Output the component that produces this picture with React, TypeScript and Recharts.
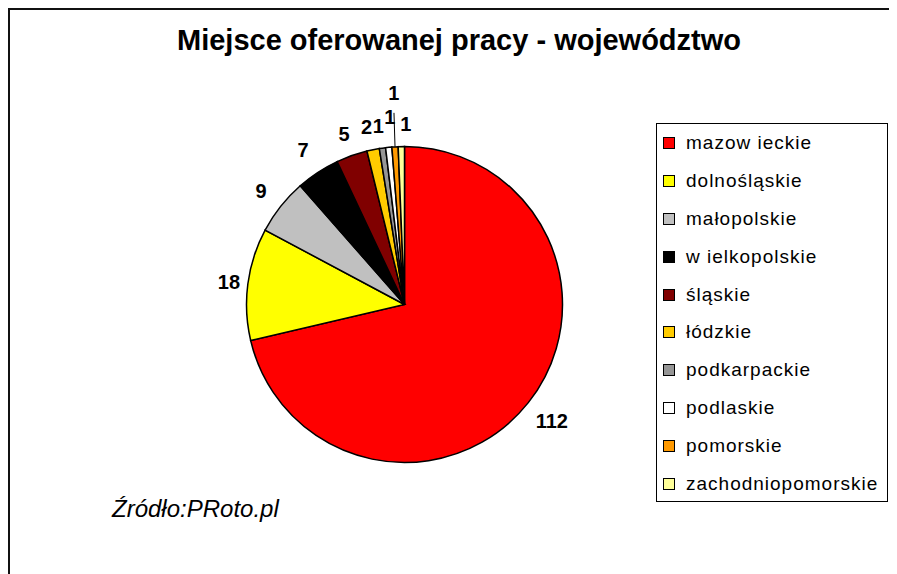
import { Cell, Legend, Pie, PieChart } from "recharts";

const categories = [
  "mazow ieckie",
  "dolnośląskie",
  "małopolskie",
  "w ielkopolskie",
  "śląskie",
  "łódzkie",
  "podkarpackie",
  "podlaskie",
  "pomorskie",
  "zachodniopomorskie",
];

const counts = [112, 18, 9, 7, 5, 2, 1, 1, 1, 1];

const colors = [
  "#ff0000",
  "#ffff00",
  "#c0c0c0",
  "#000000",
  "#800000",
  "#ffcc00",
  "#969696",
  "#ffffff",
  "#ff9900",
  "#ffff99",
];

// how far past the rim each value label sits (Excel staggers the small ones)
const labelGap = [30, 19, 25, 27, 23, 23, 22, 30, 54, 23];
// small sideways nudge (px) so the crowded labels don't sit on each other
const labelShift = [0, 0, 0, 0, 0, -2, -1, 4, 2, 5];

const data = categories.map((name, i) => ({ name, value: counts[i] }));

const font = "'Liberation Sans', Arial, sans-serif";
const RAD = Math.PI / 180;

const renderLabel = (props: any) => {
  const { cx, cy, midAngle, outerRadius, index, value } = props;
  const r = outerRadius + labelGap[index];
  const cos = Math.cos(-midAngle * RAD);
  const sin = Math.sin(-midAngle * RAD);
  const x = cx + r * cos + labelShift[index];
  const y = cy + r * sin;
  return (
    <g key={`lbl-${index}`}>
      {index === 8 && (
        <line
          x1={cx + outerRadius * cos}
          y1={cy + outerRadius * sin}
          x2={cx + (outerRadius + 34) * cos + 1}
          y2={cy + (outerRadius + 34) * sin}
          stroke="#000"
          strokeWidth={1}
        />
      )}
      <text
        x={x}
        y={y}
        textAnchor="middle"
        dominantBaseline="central"
        fontFamily={font}
        fontSize={20}
        fontWeight="bold"
        fill="#000"
      >
        {value}
      </text>
    </g>
  );
};

const renderLegend = (props: any) => {
  const payload = [...(props.payload || [])].sort(
    (a: any, b: any) => categories.indexOf(a.value) - categories.indexOf(b.value)
  );
  return (
    <div
      style={{
        boxSizing: "border-box",
        width: 232,
        height: 379,
        border: "1px solid #000",
        background: "#fff",
      }}
    >
      {payload.map((entry: any) => {
        const i = categories.indexOf(entry.value);
        return (
          <div
            key={entry.value}
            style={{
              display: "flex",
              alignItems: "center",
              height: 37.9,
              paddingLeft: 6,
            }}
          >
            <span
              style={{
                width: 10,
                height: 10,
                border: "1px solid #000",
                background: colors[i],
                flex: "none",
              }}
            />
            <span
              style={{
                marginLeft: 11,
                fontFamily: font,
                fontSize: 19,
                letterSpacing: 1,
                color: "#000",
                whiteSpace: "nowrap",
              }}
            >
              {entry.value}
            </span>
          </div>
        );
      })}
    </div>
  );
};

export default function App() {
  return (
    <div style={{ position: "relative", width: 889, height: 566 }}>
      <style>{"html{overflow:hidden}"}</style>
      <PieChart width={889} height={566} margin={{ top: 0, right: 0, bottom: 0, left: 0 }}>
        <Pie
          data={data}
          dataKey="value"
          nameKey="name"
          cx={396.5}
          cy={296.5}
          outerRadius={158}
          startAngle={90}
          endAngle={-270}
          stroke="#000"
          strokeWidth={1.5}
          label={renderLabel}
          labelLine={false}
          isAnimationActive={false}
        >
          {data.map((d, i) => (
            <Cell key={d.name} fill={colors[i]} />
          ))}
        </Pie>
        <Legend
          layout="vertical"
          align="right"
          verticalAlign="top"
          content={renderLegend}
          wrapperStyle={{ left: 648, top: 115, width: 232, height: 379 }}
        />
      </PieChart>
      <svg
        width={889}
        height={566}
        style={{ position: "absolute", left: 0, top: 0, pointerEvents: "none" }}
      >
        <text
          x={451}
          y={42}
          textAnchor="middle"
          fontFamily={font}
          fontSize={29}
          fontWeight="bold"
          fill="#000"
        >
          Miejsce oferowanej pracy - województwo
        </text>
        <text x={104} y={509} fontFamily={font} fontSize={24} fontStyle="italic" fill="#000">
          Źródło:PRoto.pl
        </text>
      </svg>
      <div
        style={{
          position: "absolute",
          left: 0,
          top: 0,
          width: 889,
          height: 566,
          boxSizing: "border-box",
          borderTop: "2px solid #111",
          borderLeft: "2px solid #111",
          pointerEvents: "none",
        }}
      />
    </div>
  );
}
